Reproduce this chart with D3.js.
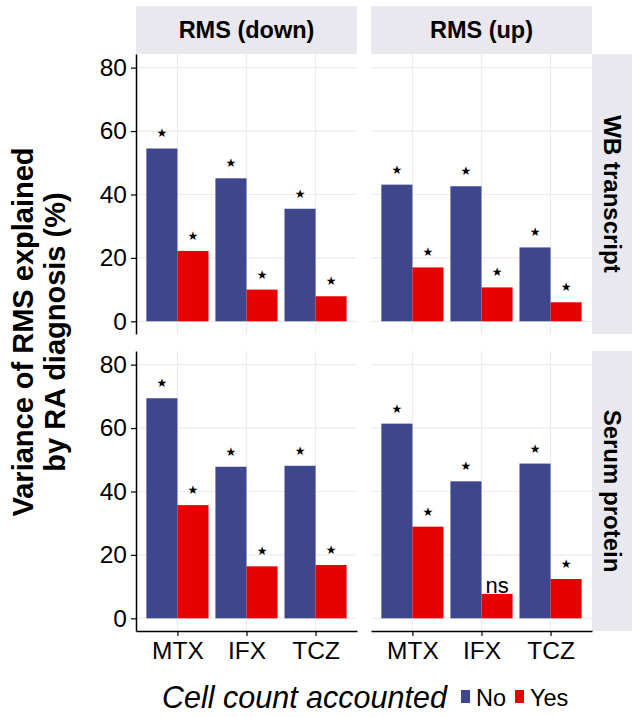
<!DOCTYPE html>
<html>
<head>
<meta charset="utf-8">
<script src="https://cdn.jsdelivr.net/npm/d3@7"></script>
<style>
  body { margin: 0; background: #fff; }
  svg { display: block; font-family: "Liberation Sans", Arial, sans-serif; }
</style>
</head>
<body>
<div id="chart"></div>
<script>
// data
const drugs = ["MTX", "IFX", "TCZ"];
const groups = ["No", "Yes"];
const colDirections = ["RMS (down)", "RMS (up)"];
const rowTypes = ["WB transcript", "Serum protein"];
const yTicks = [0, 20, 40, 60, 80];

const wbDownNo = [54.5, 45.1, 35.5];
const wbDownYes = [22.2, 10.0, 7.9];
const wbUpNo = [43.1, 42.6, 23.3];
const wbUpYes = [17.0, 10.7, 6.0];
const serumDownNo = [69.4, 47.8, 48.1];
const serumDownYes = [35.7, 16.4, 16.8];
const serumUpNo = [61.4, 43.2, 48.8];
const serumUpYes = [28.9, 7.7, 12.4];

// significance: everything starred except serum / up / IFX / Yes
const serumUpYesSig = ["*", "ns", "*"];

const colors = { No: "#3e468c", Yes: "#e60000" };

const W = 632, H = 717;
const panelX = [136, 371], panelW = 221;
const panelY = [54, 351], panelH = 280;
const stripTop = 6, stripRightW = 40;
const tickFont = 24.5;

function panelData(noVals, yesVals, yesSig) {
  const out = [];
  drugs.forEach((d, i) => {
    out.push({ drug: d, group: "No", value: noVals[i], sig: "*" });
    out.push({ drug: d, group: "Yes", value: yesVals[i], sig: yesSig ? yesSig[i] : "*" });
  });
  return out;
}

const panels = [
  { row: 0, col: 0, data: panelData(wbDownNo, wbDownYes) },
  { row: 0, col: 1, data: panelData(wbUpNo, wbUpYes) },
  { row: 1, col: 0, data: panelData(serumDownNo, serumDownYes) },
  { row: 1, col: 1, data: panelData(serumUpNo, serumUpYes, serumUpYesSig) },
];

const svg = d3.select("#chart").append("svg")
  .attr("width", W).attr("height", H);

const gridColor = "#ebebf1";
const stripFill = "#e8e8ee";

// top strips
colDirections.forEach((lab, c) => {
  svg.append("rect")
    .attr("x", panelX[c]).attr("y", stripTop)
    .attr("width", panelW).attr("height", panelY[0] - stripTop)
    .attr("fill", stripFill);
  svg.append("text")
    .attr("x", panelX[c] + panelW / 2).attr("y", (stripTop + panelY[0]) / 2)
    .attr("text-anchor", "middle").attr("dominant-baseline", "central")
    .attr("font-weight", "bold").attr("font-size", 23.5)
    .text(lab);
});

// right strips
rowTypes.forEach((lab, r) => {
  const x0 = panelX[1] + panelW;
  svg.append("rect")
    .attr("x", x0).attr("y", panelY[r])
    .attr("width", stripRightW).attr("height", panelH)
    .attr("fill", stripFill);
  svg.append("text")
    .attr("transform", `translate(${x0 + stripRightW / 2},${panelY[r] + panelH / 2}) rotate(90)`)
    .attr("text-anchor", "middle").attr("dominant-baseline", "central")
    .attr("font-weight", "bold").attr("font-size", 24)
    .text(lab);
});

panels.forEach(p => {
  const g = svg.append("g")
    .attr("transform", `translate(${panelX[p.col]},${panelY[p.row]})`);

  const x = d3.scalePoint().domain(drugs).range([0, panelW]).padding(0.6);
  const step = x.step();
  const xg = d3.scaleBand().domain(groups).range([-0.45 * step, 0.45 * step]);
  const y = d3.scaleLinear().domain([-4, 84.3]).range([panelH, 0]);

  // grid
  g.selectAll(".hg").data(yTicks).enter().append("line")
    .attr("x1", 0).attr("x2", panelW)
    .attr("y1", d => y(d)).attr("y2", d => y(d))
    .attr("stroke", gridColor).attr("stroke-width", 1.2);
  g.selectAll(".vg").data(drugs).enter().append("line")
    .attr("x1", d => x(d)).attr("x2", d => x(d))
    .attr("y1", 0).attr("y2", panelH)
    .attr("stroke", gridColor).attr("stroke-width", 1.2);

  // bars
  g.selectAll(".bar").data(p.data).enter().append("rect")
    .attr("x", d => x(d.drug) + xg(d.group))
    .attr("width", xg.bandwidth())
    .attr("y", d => y(d.value))
    .attr("height", d => y(0) - y(d.value))
    .attr("fill", d => colors[d.group]);

  // significance labels
  g.selectAll(".star").data(p.data.filter(d => d.sig === "*")).enter().append("text")
    .attr("x", d => x(d.drug) + xg(d.group) + xg.bandwidth() / 2)
    .attr("y", d => y(d.value) - 15)
    .attr("text-anchor", "middle").attr("dominant-baseline", "central")
    .attr("font-family", "DejaVu Sans").attr("font-size", 12)
    .text("\u2605");
  g.selectAll(".ns").data(p.data.filter(d => d.sig === "ns")).enter().append("text")
    .attr("x", d => x(d.drug) + xg(d.group) + xg.bandwidth() / 2)
    .attr("y", d => y(d.value) - 1)
    .attr("text-anchor", "middle")
    .attr("font-size", 22)
    .text("ns");

  // axes
  if (p.col === 0) {
    const ax = g.append("g")
      .call(d3.axisLeft(y).tickValues(yTicks).tickSize(5).tickSizeOuter(0).tickPadding(4));
    ax.select(".domain").attr("stroke", "#000").attr("stroke-width", 1.5);
    ax.selectAll(".tick line").attr("stroke", "#000").attr("stroke-width", 1.2);
    ax.selectAll(".tick text").attr("font-size", tickFont).attr("fill", "#000")
      .attr("font-family", "Liberation Sans, Arial, sans-serif");
  }
  if (p.row === 1) {
    const ax = g.append("g").attr("transform", `translate(0,${panelH})`)
      .call(d3.axisBottom(x).tickSize(5).tickSizeOuter(0).tickPadding(6));
    ax.select(".domain").attr("stroke", "#000").attr("stroke-width", 1.5);
    ax.selectAll(".tick line").attr("stroke", "#000").attr("stroke-width", 1.2);
    ax.selectAll(".tick text").attr("font-size", tickFont).attr("fill", "#000")
      .attr("font-family", "Liberation Sans, Arial, sans-serif");
  }
});

// y axis title
const yTitle = svg.append("text")
  .attr("transform", "translate(33,332) rotate(-90)")
  .attr("text-anchor", "middle")
  .attr("font-weight", "bold").attr("font-size", 29);
yTitle.append("tspan").attr("x", 0).attr("dy", 0).text("Variance of RMS explained");
yTitle.append("tspan").attr("x", 0).attr("dy", 32).text("by RA diagnosis (%)");

// legend
const legY = 708;
svg.append("text")
  .attr("x", 162).attr("y", legY)
  .attr("font-style", "italic").attr("font-size", 30.5)
  .text("Cell count accounted");
const legItems = [
  { key: "No", x: 461 },
  { key: "Yes", x: 515 },
];
legItems.forEach(it => {
  svg.append("rect")
    .attr("x", it.x).attr("y", 690).attr("width", 9).attr("height", 13)
    .attr("fill", colors[it.key]);
  svg.append("text")
    .attr("x", it.x + 15).attr("y", legY - 2)
    .attr("font-size", 23.5)
    .text(it.key);
});
</script>
</body>
</html>
